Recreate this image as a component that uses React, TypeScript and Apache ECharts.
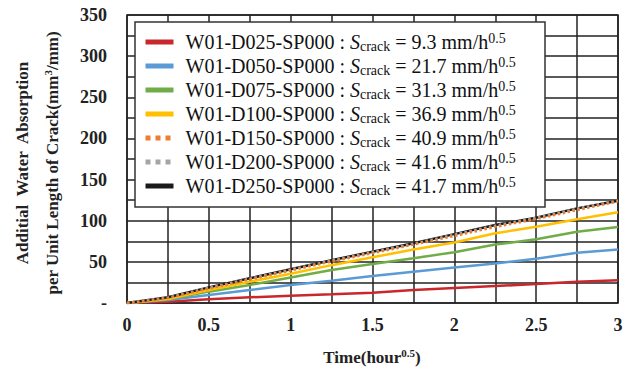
import React, { useEffect, useRef } from "react";
import * as echarts from "echarts";

const timeValues = [0, 0.25, 0.5, 0.75, 1, 1.25, 1.5, 1.75, 2, 2.25, 2.5, 2.75, 3];
const sampleNames = [
  "W01-D025-SP000",
  "W01-D050-SP000",
  "W01-D075-SP000",
  "W01-D100-SP000",
  "W01-D150-SP000",
  "W01-D200-SP000",
  "W01-D250-SP000",
];
const sCrackValues = ["9.3", "21.7", "31.3", "36.9", "40.9", "41.6", "41.7"];
const d025 = [0, 1.5, 4.5, 6.9, 8.7, 10.5, 12.5, 15.8, 18.2, 20.6, 23, 25.9, 27.5];
const d050 = [0, 3.6, 9.7, 15.8, 21.9, 27, 32.8, 38, 43, 48, 53.8, 61, 65];
const d075 = [0, 4.5, 13.8, 21.9, 31, 40, 47.4, 54.3, 61.8, 71, 77.4, 86.7, 92.5];
const d100 = [0, 4.8, 15.8, 25.9, 35.5, 46, 55.5, 65, 73.5, 84.7, 92.7, 101.7, 110.3];
const d150 = [0, 6, 17.5, 28.5, 39.5, 50.5, 60.5, 71, 81.5, 92.5, 102, 113, 123.5];
const d200 = [0, 6.5, 18.5, 29.5, 40.5, 51.5, 62, 72, 83, 94, 103.5, 114.5, 124.5];
const d250 = [0, 7, 19, 30, 41, 52, 62.4, 72.5, 83.7, 94.8, 103.7, 115, 124.3];
const seriesValues = [d025, d050, d075, d100, d150, d200, d250];
const colors = ["#C8282B", "#5B9BD5", "#70AD47", "#FFC000", "#ED7D31", "#A5A5A5", "#1A1A1A"];
const dotted = [false, false, false, false, true, true, false];
const zOrder = [2, 2, 2, 2, 5, 4, 3];

const serif = "Liberation Serif";

export default function App() {
  const ref = useRef<HTMLDivElement>(null);
  useEffect(() => {
    if (!ref.current) return;
    const chart = echarts.init(ref.current, null, { renderer: "svg" });
    const series = sampleNames.map((name, i) => ({
      name,
      type: "line",
      symbol: "none",
      showSymbol: false,
      z: zOrder[i],
      data: timeValues.map((t, k) => [t, seriesValues[i][k]]),
      lineStyle: {
        color: colors[i],
        width: 2.5,
        type: dotted[i] ? [2.5, 2.5] : "solid",
      },
      itemStyle: { color: colors[i] },
    }));
    const legendData = sampleNames.map((name, i) => ({
      name,
      itemStyle: { opacity: 0 },
      lineStyle: { width: 5, type: dotted[i] ? [5, 5] : "solid", color: colors[i] },
    }));
    chart.setOption({
      animation: false,
      grid: {
        left: 127,
        right: 15,
        top: 15,
        bottom: 68,
        show: true,
        borderColor: "#222",
        borderWidth: 1.5,
        backgroundColor: "#fff",
      },
      xAxis: {
        type: "value",
        min: 0,
        max: 3,
        interval: 0.25,
        axisLine: { show: false },
        axisTick: { show: false },
        splitLine: { show: true, lineStyle: { color: "#222", width: 1.5 } },
        axisLabel: {
          margin: 13,
          fontFamily: serif,
          fontWeight: "bold",
          fontSize: 18,
          color: "#222",
          showMinLabel: true,
          showMaxLabel: true,
          formatter: (v: number) => (Math.abs(v * 2 - Math.round(v * 2)) < 1e-9 ? String(v) : ""),
        },
      },
      yAxis: {
        type: "value",
        min: 0,
        max: 350,
        interval: 25,
        axisLine: { show: false },
        axisTick: { show: false },
        splitLine: { show: true, lineStyle: { color: "#222", width: 1.5 } },
        axisLabel: {
          margin: 20,
          fontFamily: serif,
          fontWeight: "bold",
          fontSize: 18,
          color: "#222",
          showMinLabel: true,
          showMaxLabel: true,
          formatter: (v: number) => (v === 0 ? "-" : v % 50 === 0 ? String(v) : ""),
        },
      },
      legend: {
        orient: "vertical",
        left: 143,
        top: 31,
        padding: 0,
        itemGap: 2,
        itemWidth: 28,
        itemHeight: 14,
        z: 20,
        data: legendData,
        formatter: (name: string) => {
          const i = sampleNames.indexOf(name);
          return `{a|${name} : }{i|S}{sub|crack}{b| = ${sCrackValues[i]} mm/h}{sup|0.5}`;
        },
        textStyle: {
          fontFamily: serif,
          fontSize: 20,
          color: "#111",
          rich: {
            a: { fontFamily: serif, fontSize: 20, color: "#111", lineHeight: 22, padding: [0, 0, 0, 7] },
            i: { fontFamily: serif, fontSize: 20, fontStyle: "italic", color: "#111", lineHeight: 22 },
            sub: { fontFamily: serif, fontSize: 14, color: "#111", lineHeight: 14, verticalAlign: "bottom" },
            b: { fontFamily: serif, fontSize: 20, color: "#111", lineHeight: 22 },
            sup: { fontFamily: serif, fontSize: 14, color: "#111", lineHeight: 14, verticalAlign: "top" },
          },
        },
      },
      graphic: [
        {
          type: "rect",
          z: 10,
          shape: { x: 135, y: 22, width: 410, height: 185 },
          style: { fill: "#fff", stroke: "#333", lineWidth: 1.5 },
        },
        {
          type: "text",
          x: 22,
          y: 163,
          rotation: Math.PI / 2,
          style: {
            text: "Additial  Water  Absorption",
            fontFamily: serif,
            fontWeight: "bold",
            fontSize: 17,
            fill: "#222",
            align: "center",
            verticalAlign: "middle",
          },
        },
        {
          type: "text",
          x: 52,
          y: 163,
          rotation: Math.PI / 2,
          style: {
            text: "{b|per Unit Length of Crack(mm}{s|3}{b|/mm)}",
            align: "center",
            verticalAlign: "middle",
            rich: {
              b: { fontFamily: serif, fontWeight: "bold", fontSize: 17, fill: "#222", lineHeight: 19 },
              s: { fontFamily: serif, fontWeight: "bold", fontSize: 11, fill: "#222", lineHeight: 11, verticalAlign: "top" },
            },
          },
        },
        {
          type: "text",
          x: 372,
          y: 357,
          style: {
            text: "{b|Time(hour}{s|0.5}{b|)}",
            align: "center",
            verticalAlign: "middle",
            rich: {
              b: { fontFamily: serif, fontWeight: "bold", fontSize: 17, fill: "#222", lineHeight: 19 },
              s: { fontFamily: serif, fontWeight: "bold", fontSize: 11, fill: "#222", lineHeight: 11, verticalAlign: "top" },
            },
          },
        },
      ],
      series,
    });
    return () => chart.dispose();
  }, []);
  return <div ref={ref} style={{ position: "absolute", left: 0, top: 0, width: 633, height: 371 }} />;
}
